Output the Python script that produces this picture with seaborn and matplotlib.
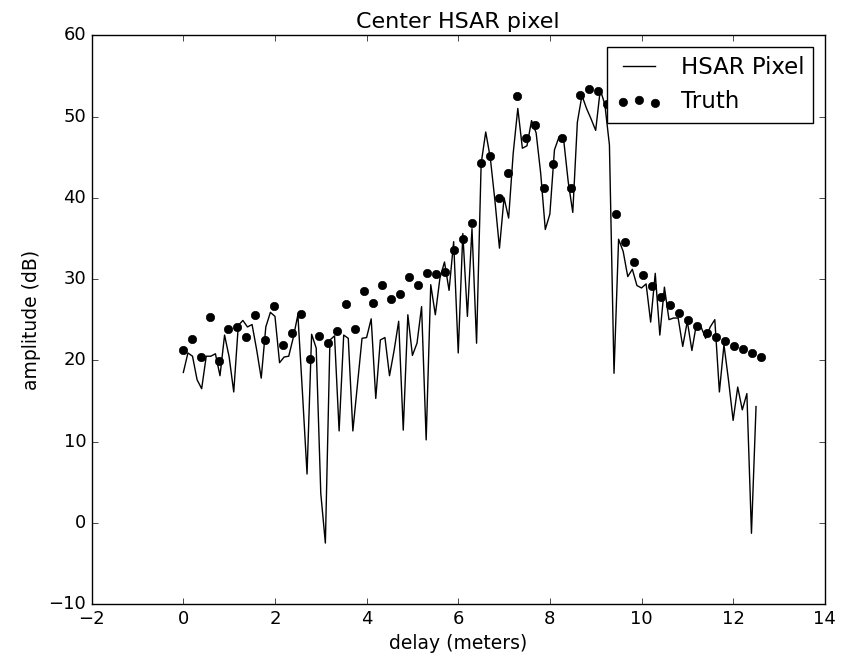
import numpy as np
import pandas as pd
import matplotlib
matplotlib.use("Agg")
import matplotlib.pyplot as plt
import seaborn as sns

plt.style.use("classic")
plt.rcParams["font.family"] = ["DejaVu Sans"]

# HSAR pixel amplitude (dB), sampled every 0.1 m from 0 to 12.5 m
hsar_delay = np.round(np.arange(126) * 0.1, 1)
hsar_amp = [
    18.5, 20.9, 20.5, 17.6, 16.5, 20.5, 20.5, 20.8, 18.1, 23.1,
    20.4, 16.1, 24.3, 24.9, 24.1, 24.4, 21.3, 17.8, 24.1, 25.9,
    25.4, 19.7, 20.4, 20.5, 22.8, 25.6, 16.0, 6.0, 23.2, 21.5,
    3.6, -2.5, 22.5, 23.0, 11.3, 23.1, 22.7, 11.3, 17.0, 22.7,
    22.8, 25.1, 15.3, 22.5, 22.8, 18.1, 21.2, 24.8, 11.4, 25.6,
    20.6, 22.1, 26.6, 10.2, 29.3, 25.6, 30.1, 32.1, 28.6, 34.6,
    20.9, 35.6, 25.4, 36.2, 22.1, 44.2, 48.1, 44.9, 39.7, 33.8,
    40.0, 37.5, 45.5, 51.0, 46.1, 46.4, 49.5, 48.0, 43.0, 36.1,
    38.0, 45.9, 47.5, 47.2, 42.0, 38.2, 49.3, 52.6, 51.0, 49.7,
    48.3, 53.3, 51.5, 46.5, 18.4, 34.9, 33.4, 30.3, 31.2, 29.2,
    28.9, 29.4, 24.7, 30.7, 23.1, 29.0, 25.0, 25.2, 25.2, 21.7,
    24.8, 21.2, 24.5, 24.1, 22.7, 24.1, 25.0, 16.1, 21.9, 17.5,
    12.6, 16.7, 13.9, 15.9, -1.3, 14.3,
]

# Truth amplitude (dB), 65 samples from 0 to 12.6 m
truth_delay = np.linspace(0.0, 12.6, 65)
truth_amp = [
    21.3, 22.6, 20.4, 25.3, 19.9, 23.8, 24.1, 22.9, 25.6, 22.5,
    26.7, 21.9, 23.4, 25.7, 20.2, 23.0, 22.1, 23.6, 26.9, 23.8,
    28.5, 27.0, 29.3, 27.6, 28.2, 30.3, 29.3, 30.7, 30.6, 30.9,
    33.6, 34.9, 36.9, 44.3, 45.2, 40.0, 43.0, 52.5, 47.4, 48.9,
    41.2, 44.2, 47.4, 41.2, 52.7, 53.4, 53.1, 51.5, 38.0, 34.5,
    32.1, 30.5, 29.1, 27.8, 26.8, 25.8, 25.0, 24.2, 23.4, 22.9,
    22.4, 21.8, 21.4, 20.9, 20.4,
]

x_ticks = [-2, 0, 2, 4, 6, 8, 10, 12, 14]
y_ticks = [-10, 0, 10, 20, 30, 40, 50, 60]

hsar_df = pd.DataFrame({"delay": hsar_delay, "amp": hsar_amp})
truth_df = pd.DataFrame({"delay": truth_delay, "amp": truth_amp})

fig = plt.figure(figsize=(8.46, 6.59), dpi=100, facecolor="white")
ax = fig.add_axes([0.1084, 0.0835, 0.8665, 0.8629])

sns.lineplot(data=hsar_df, x="delay", y="amp", ax=ax, color="black",
             linewidth=1.0, sort=False, estimator=None, label="HSAR Pixel")
sns.scatterplot(data=truth_df, x="delay", y="amp", ax=ax, color="black",
                s=36, edgecolor="black", linewidth=0.5, label="Truth", zorder=3)

ax.set_xlim(-2, 14)
ax.set_ylim(-10, 60)
ax.set_xticks(x_ticks)
ax.set_yticks(y_ticks)
ax.set_xlabel("delay (meters)", fontsize=13.5)
ax.set_ylabel("amplitude (dB)", fontsize=13.5)
ax.set_title("Center HSAR pixel", fontsize=16)
ax.tick_params(labelsize=13)

ax.legend(loc="upper right", fontsize=16.5, scatterpoints=3)

fig.savefig("out.png", dpi=100, facecolor="white")
